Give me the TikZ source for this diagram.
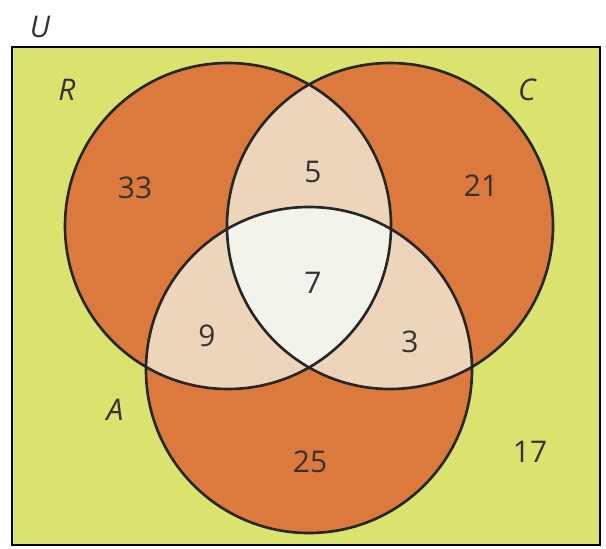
\documentclass[tikz,border=0pt]{standalone}
\usepackage{fontspec}
\setmainfont{Open Sans}
\definecolor{fondo}{HTML}{D9E36E}
\definecolor{naranja}{HTML}{DB7A3C}
\definecolor{claro}{HTML}{EDD5BB}
\definecolor{centro}{HTML}{F2F4EB}
\tikzset{
  num/.style={font=\fontsize{17}{20}\selectfont, text=black!80},
  letra/.style={font=\fontsize{17}{20}\selectfont\itshape, text=black!80}
}
\begin{document}
\begin{tikzpicture}
    \useasboundingbox (0,0) rectangle (12.12,10.96);
    \def\r{3.26}
    \coordinate (cR) at (4.56,6.44);
    \coordinate (cC) at (7.8,6.44);
    \coordinate (cA) at (6.18,3.56);
    \draw[fill=fondo, line width=1.1pt] (.24,.06) rectangle (12,10.02);
    \fill[naranja] (cR) circle (\r) (cC) circle (\r) (cA) circle (\r);
    \begin{scope}
      \clip (cR) circle (\r);
      \fill[claro] (cC) circle (\r) (cA) circle (\r);
      \clip (cC) circle (\r);
      \fill[centro] (cA) circle (\r);
    \end{scope}
    \begin{scope}
      \clip (cC) circle (\r);
      \fill[claro] (cA) circle (\r);
      \clip (cR) circle (\r);
      \fill[centro] (cA) circle (\r);
    \end{scope}
    \draw[line width=1.5pt, black!85] (cR) circle (\r) (cC) circle (\r) (cA) circle (\r);
    \node[letra] (U) at (.8,10.42) {U};
    \node[letra] (R) at (1.34,9.16) {R};
    \node[letra] (C) at (10.54,9.16) {C};
    \node[letra] (A) at (2.3,2.76) {A};
    \node[num] (n33) at (2.7,7.2) {33};
    \node[num] (n5) at (6.26,7.52) {5};
    \node[num] (n21) at (9.62,7.24) {21};
    \node[num] (n7) at (6.26,5.3) {7};
    \node[num] (n9) at (4.14,4.24) {9};
    \node[num] (n3) at (8.2,4.12) {3};
    \node[num] (n25) at (6.2,1.72) {25};
    \node[num] (n17) at (10.6,1.92) {17};
\end{tikzpicture}
\end{document}
